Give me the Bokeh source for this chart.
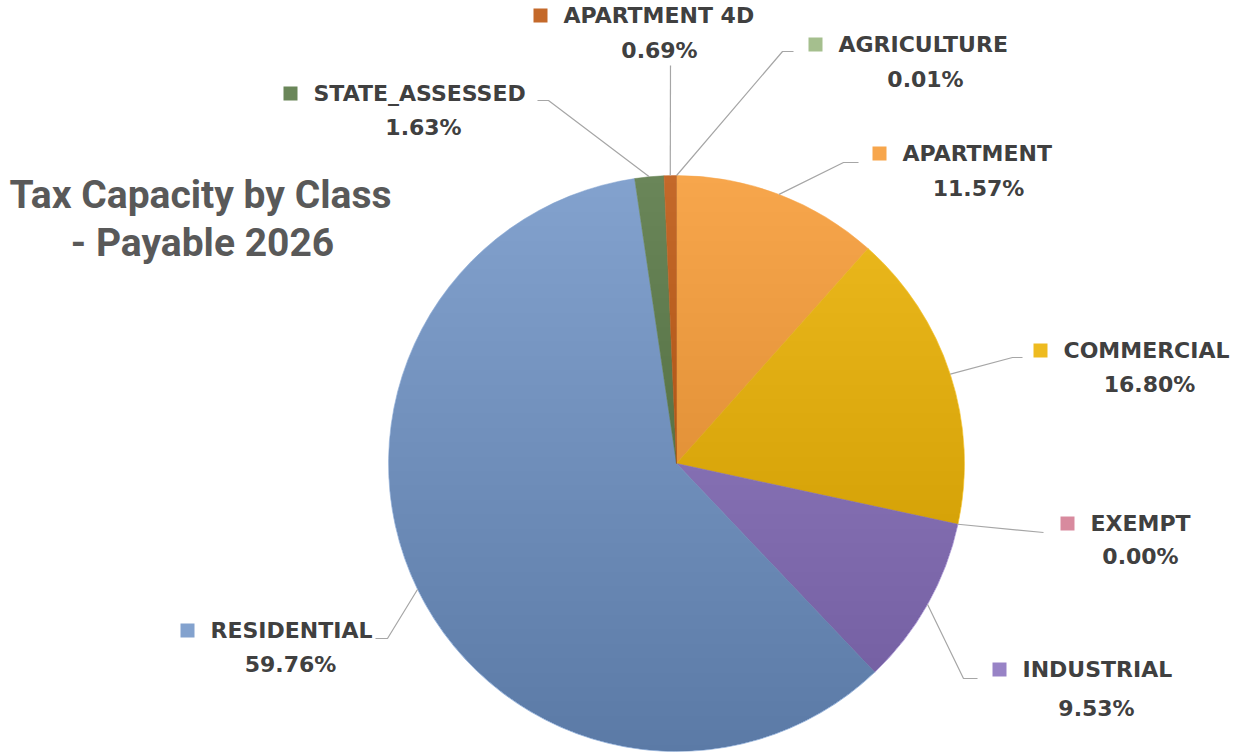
import math
from bokeh.plotting import figure
from bokeh.models import Range1d, ColumnDataSource
from bokeh.core.properties import value
from bokeh.embed import file_html
from bokeh.resources import INLINE

# ---------------- data ----------------
classes = ["AGRICULTURE", "APARTMENT", "COMMERCIAL", "EXEMPT",
           "INDUSTRIAL", "RESIDENTIAL", "STATE_ASSESSED", "APARTMENT 4D"]
shares = [0.01, 11.57, 16.80, 0.00, 9.53, 59.76, 1.63, 0.69]
colors = ["#a5bf8e", "#f7a64c", "#eebb20", "#d88a9e",
          "#9883c6", "#83a2ce", "#6a8659", "#c4692a"]
title_lines = ["Tax Capacity by Class", "- Payable 2026"]

# ---------------- layout (image pixel coords) ----------------
W, H = 1241, 752
def Y(img_y):
    return H - img_y

CX, CY, R = 676, Y(463), 288

name_left = [838, 902, 1063, 1090, 1022, 210, 313, 563]
name_y = [44, 153, 350, 523, 669, 630, 93, 15]
pct_cx = [925, 978, 1149, 1140, 1096, 290, 423, 659]
pct_y = [79, 188, 384, 556, 708, 664, 127, 50]
bend = [(782, 51), (843, 162), (1012, 357), (1043, 532),
        (963, 678), (387, 638), (548, 100), (670, 65)]
end = [(793, 51), (858, 162), (1022, 357), (1043, 532),
       (977, 678), (375, 638), (537, 100), (670, 65)]

p = figure(width=W, height=H, output_backend="svg", toolbar_location=None,
           x_range=Range1d(0, W), y_range=Range1d(0, H),
           min_border=0, outline_line_color=None)
p.axis.visible = False
p.grid.visible = False
p.background_fill_color = "white"
p.border_fill_color = "white"

# ---------------- pie ----------------
total = sum(shares)
cum = 0.0
starts, ends, mids = [], [], []
for v in shares:
    f0 = cum / total
    cum += v
    f1 = cum / total
    starts.append(math.pi / 2 - 2 * math.pi * f0)
    ends.append(math.pi / 2 - 2 * math.pi * f1)
    mids.append(math.pi / 2 - 2 * math.pi * (f0 + f1) / 2)

keep = [i for i, v in enumerate(shares) if v > 0]
src = ColumnDataSource(dict(start=[starts[i] for i in keep],
                            end=[ends[i] for i in keep],
                            color=[colors[i] for i in keep]))
p.wedge(x=CX, y=CY, radius=R, start_angle="start", end_angle="end",
        direction="clock", fill_color="color", line_color="color",
        line_width=0.5, source=src)

# soft vertical shading (light at top, darker at bottom)
N = 40
def circle_region(y_cut, below=True):
    steps = 60
    a0 = math.asin(max(-1, min(1, (y_cut - CY) / R)))
    if below:
        angles = [a0 - (math.pi + 2 * a0) * k / steps for k in range(steps + 1)]
    else:
        angles = [a0 + (math.pi - 2 * a0) * k / steps for k in range(steps + 1)]
    return ([CX + R * math.cos(a) for a in angles],
            [CY + R * math.sin(a) for a in angles])

dxs, dys, lxs, lys = [], [], [], []
for k in range(N):
    t = (k + 0.5) / N
    x1, y1 = circle_region(CY + R - 2 * R * t, below=True)
    dxs.append(x1); dys.append(y1)
    x2, y2 = circle_region(CY - R + 2 * R * t, below=False)
    lxs.append(x2); lys.append(y2)
p.patches(xs=dxs, ys=dys, fill_color="black", fill_alpha=0.002, line_color=None)
p.patches(xs=lxs, ys=lys, fill_color="white", fill_alpha=0.003, line_color=None)

# ---------------- leader lines ----------------
for i in range(len(classes)):
    sx = CX + R * math.cos(mids[i])
    sy = CY + R * math.sin(mids[i])
    p.line([sx, bend[i][0], end[i][0]], [sy, Y(bend[i][1]), Y(end[i][1])],
           line_color="#a6a6a6", line_width=1.2)

# ---------------- labels ----------------
lab = ColumnDataSource(dict(
    nx=name_left, ny=[Y(v) for v in name_y], name=classes,
    px=pct_cx, py=[Y(v) for v in pct_y],
    pct=["{:.2f}%".format(v) for v in shares],
    sx=[v - 23 for v in name_left], sy=[Y(v) for v in name_y], color=colors))
p.scatter(x="sx", y="sy", marker="square", size=14, fill_color="color",
          line_color=None, source=lab)
p.text(x="nx", y="ny", text="name", source=lab, text_font=value("DejaVu Sans"),
       text_font_style="bold", text_font_size="22px", text_color="#404040",
       text_align="left", text_baseline="middle")
p.text(x="px", y="py", text="pct", source=lab, text_font=value("DejaVu Sans"),
       text_font_style="bold", text_font_size="22px", text_color="#404040",
       text_align="center", text_baseline="middle")

# ---------------- title ----------------
p.text(x=[200, 202], y=[Y(194), Y(242)], text=title_lines,
       text_font=value("Roboto"), text_font_style="bold", text_font_size="39px",
       text_color="#595959", text_align="center", text_baseline="middle")

open("out.html", "w").write(file_html(p, INLINE))
